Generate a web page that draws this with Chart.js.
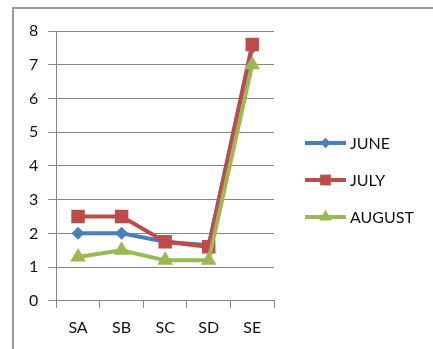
<!DOCTYPE html>
<html>
<head>
<meta charset="utf-8">
<script src="https://cdn.jsdelivr.net/npm/chart.js@4"></script>
<style>
  html, body { margin: 0; padding: 0; background: #fff; }
  #wrap { position: relative; width: 433px; height: 349px; overflow: hidden; }
  #frame { position: absolute; left: 12px; top: 7px; width: 440px; height: 360px;
           border-top: 2px solid #9a9a9a; border-left: 2px solid #9a9a9a; }
  canvas { position: absolute; left: 0; top: 0; }
</style>
</head>
<body>
<div id="wrap">
  <div id="frame"></div>
  <canvas id="chart" width="433" height="349"></canvas>
</div>
<script>
const categories = ["SA", "SB", "SC", "SD", "SE"];
const june = [2, 2, 1.75, 1.65, 7.5];
const july = [2.5, 2.5, 1.75, 1.6, 7.6];
const august = [1.3, 1.5, 1.2, 1.2, 7.0];
const yTicks = [0, 1, 2, 3, 4, 5, 6, 7, 8];

const FONT = "Lato, 'Open Sans', sans-serif";

// legend drawn to the right of the plot: line sample with its marker, then the label
const sideLegend = {
  id: "sideLegend",
  afterDraw(chart, args, opts) {
    const ctx = chart.ctx;
    const sets = chart.data.datasets.slice().reverse();
    ctx.save();
    sets.forEach((ds, i) => {
      const y = opts.top + i * opts.rowGap;
      ctx.strokeStyle = ds.borderColor;
      ctx.lineWidth = 4;
      ctx.beginPath();
      ctx.moveTo(opts.left, y);
      ctx.lineTo(opts.left + opts.lineWidth, y);
      ctx.stroke();
      ctx.fillStyle = ds.pointBackgroundColor;
      Chart.helpers.drawPoint(ctx, { pointStyle: ds.pointStyle, radius: ds.pointRadius * 0.8, borderWidth: 0 },
        opts.left + opts.lineWidth / 2, y);
      ctx.fillStyle = "#111";
      ctx.font = "16px " + FONT;
      ctx.textBaseline = "middle";
      ctx.textAlign = "left";
      ctx.fillText(ds.label, opts.left + opts.lineWidth + 4, y + 1);
    });
    ctx.restore();
  },
};

new Chart(document.getElementById("chart").getContext("2d"), {
  type: "line",
  data: {
    labels: categories,
    datasets: [
      {
        label: "AUGUST",
        data: august,
        borderColor: "#98b954",
        backgroundColor: "#98b954",
        pointBackgroundColor: "#98b954",
        pointBorderWidth: 0,
        pointStyle: "triangle",
        pointRadius: 9,
        borderWidth: 4,
      },
      {
        label: "JULY",
        data: july,
        borderColor: "#be4b48",
        backgroundColor: "#be4b48",
        pointBackgroundColor: "#be4b48",
        pointBorderWidth: 0,
        pointStyle: "rect",
        pointRadius: 9.5,
        borderWidth: 4,
      },
      {
        label: "JUNE",
        data: june,
        borderColor: "#4a7ebb",
        backgroundColor: "#4a7ebb",
        pointBackgroundColor: "#4a7ebb",
        pointBorderWidth: 0,
        pointStyle: "rectRot",
        pointRadius: 6.5,
        borderWidth: 4,
      },
    ],
  },
  options: {
    responsive: false,
    animation: false,
    layout: { padding: { left: 19, top: 31, right: 159, bottom: 2 } },
    scales: {
      x: {
        type: "category",
        offset: true,
        grid: { offset: true, drawOnChartArea: false, drawTicks: true, tickLength: 7, color: "#868686" },
        border: { color: "#868686" },
        ticks: { color: "#111", padding: 10, font: { family: FONT, size: 16 } },
      },
      y: {
        min: 0,
        max: 8,
        afterBuildTicks: (axis) => { axis.ticks = yTicks.map((v) => ({ value: v })); },
        grid: { color: "#868686", tickLength: 8 },
        border: { color: "#868686" },
        ticks: { color: "#111", padding: 10, font: { family: FONT, size: 16 } },
      },
    },
    plugins: {
      tooltip: { enabled: false },
      legend: { display: false },
      sideLegend: { left: 305, top: 143, rowGap: 37, lineWidth: 41 },
    },
  },
  plugins: [sideLegend],
});
</script>
</body>
</html>
